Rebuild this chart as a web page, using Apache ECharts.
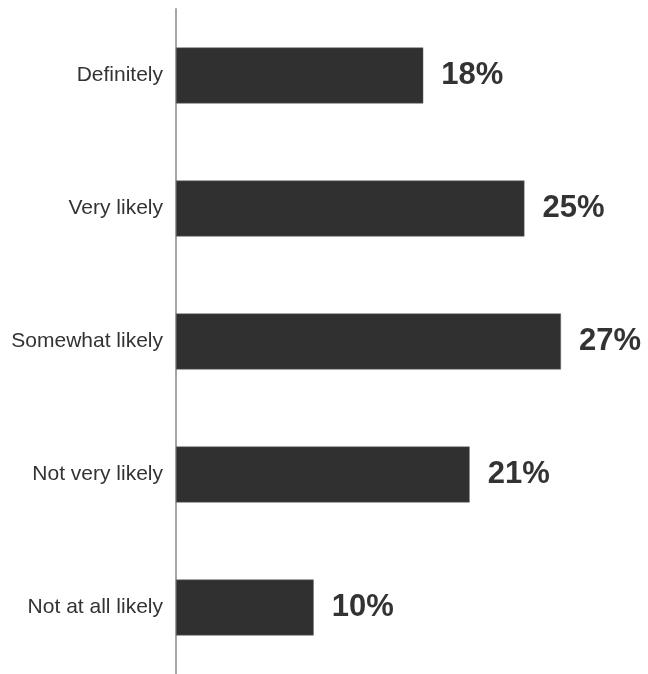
<!DOCTYPE html>
<html>
<head>
<meta charset="utf-8">
<script src="https://cdn.jsdelivr.net/npm/echarts@6/dist/echarts.min.js"></script>
<style>html,body{margin:0;padding:0;background:#fff;}#c{width:648px;height:674px;}</style>
</head>
<body>
<div id="c"></div>
<script>
const categories = ['Definitely', 'Very likely', 'Somewhat likely', 'Not very likely', 'Not at all likely'];
const values = [17.6, 24.8, 27.4, 20.9, 9.8];

const chart = echarts.init(document.getElementById('c'), null, {renderer: 'canvas'});
chart.setOption({
  animation: false,
  backgroundColor: '#ffffff',
  grid: {left: 176, top: 9, width: 421.5, height: 668, containLabel: false},
  xAxis: {
    type: 'value', min: 0, max: 30, show: false
  },
  yAxis: {
    type: 'category', data: categories, inverse: true,
    axisLine: {show: true, lineStyle: {color: '#a6a6a6', width: 2}},
    axisTick: {show: false},
    axisLabel: {color: '#333333', fontSize: 21, fontFamily: 'Liberation Sans, Arial, sans-serif', margin: 13}
  },
  series: [{
    type: 'bar',
    data: values,
    barWidth: 56,
    itemStyle: {color: '#303030', borderColor: '#6a6a6a', borderWidth: 0.5},
    label: {
      show: true, position: 'right', distance: 18,
      formatter: p => Math.round(p.value) + '%',
      color: '#333333', fontSize: 31, fontWeight: 'bold',
      fontFamily: 'Liberation Sans, Arial, sans-serif'
    }
  }]
});
</script>
</body>
</html>
